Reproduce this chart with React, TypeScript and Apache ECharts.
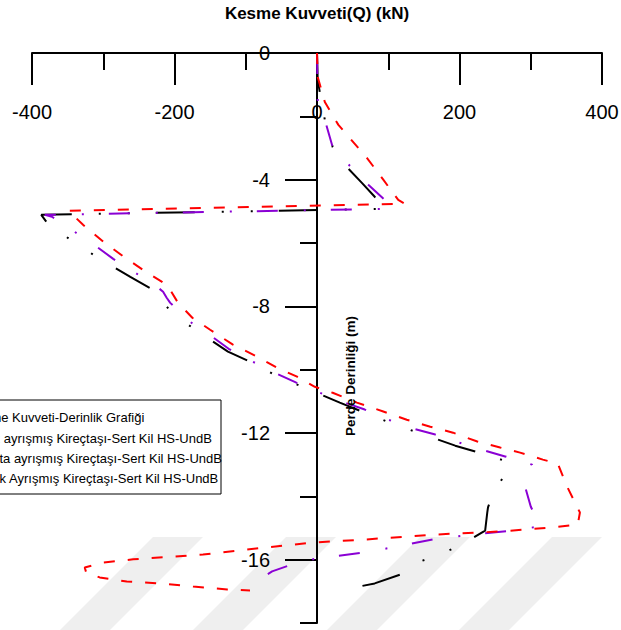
import React, { useEffect, useRef } from "react";
import * as echarts from "echarts";

const FONT = "'Liberation Sans', Arial, Helvetica, sans-serif";

const xTitle = "Kesme Kuvveti(Q) (kN)";
const yTitle = "Perde Derinliği (m)";
const legendTitle = "Kesme Kuvveti-Derinlik Grafiği";
const seriesNames = [
  "Az ayrışmış Kireçtaşı-Sert Kil HS-UndB",
  "Orta ayrışmış Kireçtaşı-Sert Kil HS-UndB",
  "Çok Ayrışmış Kireçtaşı-Sert Kil HS-UndB",
];

const xMin = -400;
const xMax = 400;
const xStep = 200;
const yMin = -18;
const yMax = 0;
const yMajorTicks = [0, -4, -8, -12, -16];
const yMinorTicks = [-2, -6, -10, -14, -18];

// [Q (kN), depth (m)]
const blackData = [
  [0, 0], [1, -0.85], [7, -1.64], [11, -2.11], [22, -2.97], [43, -3.63],
  [63, -4.1], [81, -4.54], [97, -4.92], [-387, -5.11], [-378, -5.39],
  [-342, -5.96], [-309, -6.44], [-262, -7.07], [-230, -7.48], [-204, -8.2],
  [-171, -8.74], [-125, -9.43], [-91, -9.78], [-55, -10.22], [-17, -10.57],
  [32, -11.04], [67, -11.36], [105, -11.7], [142, -11.99], [194, -12.4],
  [232, -12.65], [271, -12.93], [261, -13.41], [254, -13.66], [250, -13.94],
  [243, -14.16], [240, -14.35], [239, -14.51], [236, -15.08], [201, -15.55],
  [166, -15.9], [140, -16.09], [117, -16.47], [81, -16.75], [39, -16.94],
];

const purpleData = [
  [0, 0], [1, -1.48], [13, -2.27], [22, -2.97], [46, -3.56], [72, -4.16],
  [95, -4.64], [105, -4.92], [-382, -5.11], [-372, -5.17], [-340, -5.65],
  [-309, -6.12], [-286, -6.5], [-255, -6.94], [-223, -7.41], [-216, -7.54],
  [-211, -7.73], [-206, -7.89], [-178, -8.49], [-147, -8.96], [-124, -9.34],
  [-90, -9.75], [-56, -10.13], [-29, -10.41], [4, -10.73], [39, -11.04],
  [67, -11.26], [100, -11.58], [135, -11.86], [166, -12.05], [199, -12.3],
  [236, -12.56], [264, -12.74], [302, -13.0], [292, -13.69], [300, -14.32],
  [313, -14.95], [274, -15.08], [205, -15.24], [170, -15.33], [104, -15.62],
  [67, -15.77], [0, -15.96], [-35, -16.15], [-63, -16.37], [-76, -16.56],
  [-70, -16.81],
];

const redData = [
  [0, 0], [1, -0.76], [11, -1.55], [30, -2.27], [70, -3.31], [93, -4.0],
  [114, -4.64], [123, -4.76], [-349, -4.98], [-328, -5.43], [-300, -5.96],
  [-269, -6.47], [-244, -6.85], [-218, -7.22], [-206, -7.48], [-195, -7.89],
  [-175, -8.36], [-150, -8.74], [-118, -9.21], [-84, -9.59], [-56, -9.94],
  [-28, -10.22], [-3, -10.54], [22, -10.73], [56, -11.04], [93, -11.32],
  [126, -11.58], [159, -11.8], [191, -11.99], [225, -12.27], [257, -12.46],
  [285, -12.62], [317, -12.84], [338, -12.97], [351, -13.69], [369, -14.51],
  [366, -14.89], [331, -14.98], [257, -15.11], [163, -15.21], [70, -15.36],
  [-6, -15.46], [-70, -15.61], [-160, -15.84], [-258, -15.99], [-300, -16.09],
  [-326, -16.25], [-324, -16.4], [-305, -16.56], [-267, -16.69], [-220, -16.75],
  [-174, -16.85], [-126, -16.94], [-94, -16.97],
];

const seriesColors = ["#000000", "#8a00d4", "#ff0000"];
const seriesDash = [
  [39, 26, 2, 27, 2, 27],
  [21, 25, 2, 26],
  [11, 13],
];

const GRID_LEFT = 32;
const GRID_RIGHT = 19;
const PLOT_W = 621 - GRID_LEFT - GRID_RIGHT;
// move the depth axis from the grid's left edge onto Q = 0
const Y_AXIS_OFFSET = -PLOT_W * ((0 - xMin) / (xMax - xMin));

export default function App() {
  const ref = useRef<HTMLDivElement>(null);

  useEffect(() => {
    if (!ref.current) return;
    const chart = echarts.init(ref.current, undefined, { renderer: "svg" });

    const stripes = [153, 286, 420, 552].map((a) => ({
      type: "polygon",
      z: -10,
      silent: true,
      shape: {
        points: [
          [a, 537],
          [a + 50, 537],
          [a - 43, 630],
          [a - 93, 630],
        ],
      },
      style: { fill: "#efefef" },
    }));

    const legendLines = [legendTitle, ...seriesNames];
    const legendX = [-32, -15, -15, -17];
    const legendY = [417, 438, 458, 478];

    const dataSets = [blackData, purpleData, redData];

    chart.setOption({
      animation: false,
      backgroundColor: "#ffffff",
      textStyle: { fontFamily: FONT },
      grid: {
        left: GRID_LEFT,
        right: GRID_RIGHT,
        top: 53,
        bottom: 7,
        containLabel: false,
        outerBoundsMode: "none",
      },
      xAxis: {
        type: "value",
        position: "top",
        min: xMin,
        max: xMax,
        interval: xStep,
        name: xTitle,
        nameLocation: "middle",
        nameGap: 31,
        nameTextStyle: {
          fontFamily: FONT,
          fontWeight: "bold",
          fontSize: 17,
          color: "#000",
        },
        axisLine: { onZero: false, lineStyle: { color: "#000", width: 2 } },
        axisTick: {
          show: true,
          inside: true,
          length: 32,
          lineStyle: { color: "#000", width: 2 },
        },
        minorTick: {
          show: true,
          splitNumber: 2,
          length: 17,
          lineStyle: { color: "#000", width: 2 },
        },
        axisLabel: {
          inside: true,
          margin: 49,
          fontSize: 20,
          fontFamily: FONT,
          color: "#000",
        },
        splitLine: { show: false },
        minorSplitLine: { show: false },
      },
      yAxis: [
        {
          type: "value",
          position: "left",
          offset: Y_AXIS_OFFSET,
          min: yMin,
          max: yMax,
          axisLine: {
            show: true,
            onZero: false,
            lineStyle: { color: "#000", width: 2 },
          },
          axisTick: {
            show: true,
            length: 32,
            customValues: yMajorTicks,
            lineStyle: { color: "#000", width: 2 },
          },
          axisLabel: {
            show: true,
            customValues: yMajorTicks,
            margin: 47,
            fontSize: 20,
            fontFamily: FONT,
            color: "#000",
          },
          splitLine: { show: false },
        },
        {
          type: "value",
          position: "left",
          offset: Y_AXIS_OFFSET,
          min: yMin,
          max: yMax,
          axisLine: { show: false, onZero: false },
          axisTick: {
            show: true,
            length: 17,
            customValues: yMinorTicks,
            lineStyle: { color: "#000", width: 2 },
          },
          axisLabel: { show: false },
          splitLine: { show: false },
        },
      ],
      series: dataSets.map((d, i) => ({
        name: seriesNames[i],
        type: "line",
        data: d,
        xAxisIndex: 0,
        yAxisIndex: 0,
        symbol: "none",
        showSymbol: false,
        smooth: false,
        z: 2 + i,
        lineStyle: {
          color: seriesColors[i],
          width: 2,
          type: seriesDash[i],
          cap: "butt",
        },
      })),
      graphic: [
        ...stripes,
        {
          type: "text",
          z: 20,
          x: 350,
          y: 376,
          rotation: Math.PI / 2,
          style: {
            text: yTitle,
            font: `bold 13.5px ${FONT}`,
            fill: "#000",
            textAlign: "center",
            textVerticalAlign: "middle",
          },
        },
        {
          type: "rect",
          z: 20,
          shape: { x: -10, y: 400, width: 231, height: 94 },
          style: { fill: "#ffffff", stroke: "#000", lineWidth: 1 },
        },
        ...legendLines.map((t, i) => ({
          type: "text",
          z: 21,
          x: legendX[i],
          y: legendY[i],
          style: {
            text: t,
            font: `13px ${FONT}`,
            fill: "#000",
            textAlign: "left",
            textVerticalAlign: "middle",
          },
        })),
      ],
    });

    return () => chart.dispose();
  }, []);

  return (
    <div
      ref={ref}
      style={{ position: "absolute", left: 0, top: 0, width: 621, height: 630 }}
    />
  );
}
